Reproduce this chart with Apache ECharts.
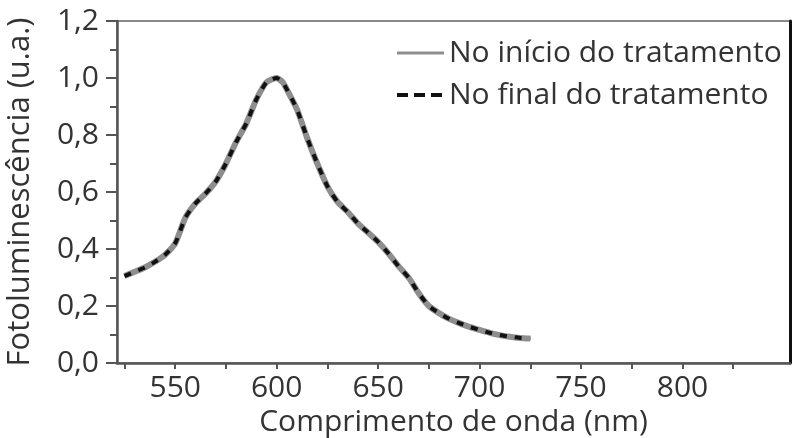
<!DOCTYPE html>
<html>
<head>
<meta charset="utf-8">
<script src="https://cdn.jsdelivr.net/npm/echarts@6/dist/echarts.min.js"></script>
<style>
  html, body { margin: 0; padding: 0; background: #fff; }
  #chart { width: 793px; height: 438px; }
</style>
</head>
<body>
<div id="chart"></div>
<script>
// comprimento de onda (nm) e fotoluminescência
var wavelengths = [525, 530, 535, 540, 545, 550, 555, 560, 565, 570, 575, 580, 585, 590, 595, 600,
  603, 605, 610, 615, 620, 625, 630, 635, 640, 645, 650, 655, 660, 665, 670, 675, 680, 685,
  690, 695, 700, 705, 710, 715, 720, 725];
var inicioValues = [0.305, 0.32, 0.335, 0.355, 0.38, 0.42, 0.51, 0.56, 0.595, 0.637, 0.70, 0.775,
  0.84, 0.925, 0.985, 1.0, 0.985, 0.96, 0.89, 0.79, 0.70, 0.62, 0.565, 0.53, 0.49, 0.458,
  0.425, 0.385, 0.34, 0.30, 0.245, 0.20, 0.175, 0.155, 0.14, 0.127, 0.116, 0.106, 0.098,
  0.092, 0.088, 0.086];
var finalValues = inicioValues.slice(); // as duas curvas coincidem
var xLabelValues = [550, 600, 650, 700, 750, 800];
var xTickValues = [525, 550, 575, 600, 625, 650, 675, 700, 725, 750, 775, 800, 825];
var seriesNames = ['No início do tratamento', 'No final do tratamento'];

var toPairs = function (xs, ys) {
  return xs.map(function (x, i) { return [x, ys[i]]; });
};

var FONT = 'Open Sans';
var TXT = '#333';

var chart = echarts.init(document.getElementById('chart'));
chart.setOption({
  animation: false,
  textStyle: { fontFamily: FONT },
  grid: {
    left: 117, right: 3, top: 21, bottom: 75,
    outerBoundsMode: 'none', containLabel: false,
    show: true, borderColor: '#888', borderWidth: 2
  },
  legend: {
    orient: 'vertical',
    left: 390,
    top: 33,
    itemWidth: 47,
    itemHeight: 14,
    itemGap: 12,
    data: [
      { name: seriesNames[0], lineStyle: { width: 3 } },
      { name: seriesNames[1], lineStyle: { width: 4, type: [11, 6] } }
    ],
    itemStyle: { color: 'transparent', borderColor: 'transparent', borderWidth: 0 },
    textStyle: { fontSize: 30, color: TXT, fontFamily: FONT }
  },
  xAxis: {
    type: 'value',
    min: 521.3,
    max: 853,
    name: 'Comprimento de onda (nm)',
    nameLocation: 'middle',
    nameGap: 34,
    nameTextStyle: { fontSize: 30, color: TXT },
    axisLine: { lineStyle: { color: '#555', width: 2.5 } },
    axisTick: { show: true, customValues: xTickValues, length: 6, lineStyle: { color: '#555', width: 2 } },
    axisLabel: { customValues: xLabelValues, fontSize: 30, color: TXT, margin: 10 },
    splitLine: { show: false }
  },
  yAxis: [{
    type: 'value',
    min: 0,
    max: 1.2,
    interval: 0.2,
    name: 'Fotoluminescência (u.a.)',
    nameLocation: 'middle',
    nameGap: 81,
    nameTextStyle: { fontSize: 31, color: TXT },
    axisLine: { show: true, lineStyle: { color: '#555', width: 2.5 } },
    axisTick: { show: true, length: 11, lineStyle: { color: '#555', width: 2 } },
    minorTick: { show: true, splitNumber: 2, length: 7, lineStyle: { color: '#555', width: 2 } },
    axisLabel: {
      fontSize: 30, color: TXT, margin: 18,
      formatter: function (v) { return v.toFixed(1).replace('.', ','); }
    },
    splitLine: { show: false }
  }, {
    type: 'value',
    position: 'right',
    min: 0,
    max: 1.2,
    axisLine: { show: true, lineStyle: { color: '#111', width: 3 } },
    axisTick: { show: false },
    axisLabel: { show: false },
    splitLine: { show: false }
  }],
  series: [{
    name: seriesNames[0],
    type: 'line',
    data: toPairs(wavelengths, inicioValues),
    symbol: 'none',
    smooth: 0.2,
    itemStyle: { color: '#8e8e8e' },
    lineStyle: { color: '#8e8e8e', width: 6 }
  }, {
    name: seriesNames[1],
    type: 'line',
    data: toPairs(wavelengths, finalValues),
    symbol: 'none',
    smooth: 0.2,
    itemStyle: { color: '#111' },
    lineStyle: { color: '#111', width: 4, type: [7, 8] }
  }]
});
</script>
</body>
</html>
